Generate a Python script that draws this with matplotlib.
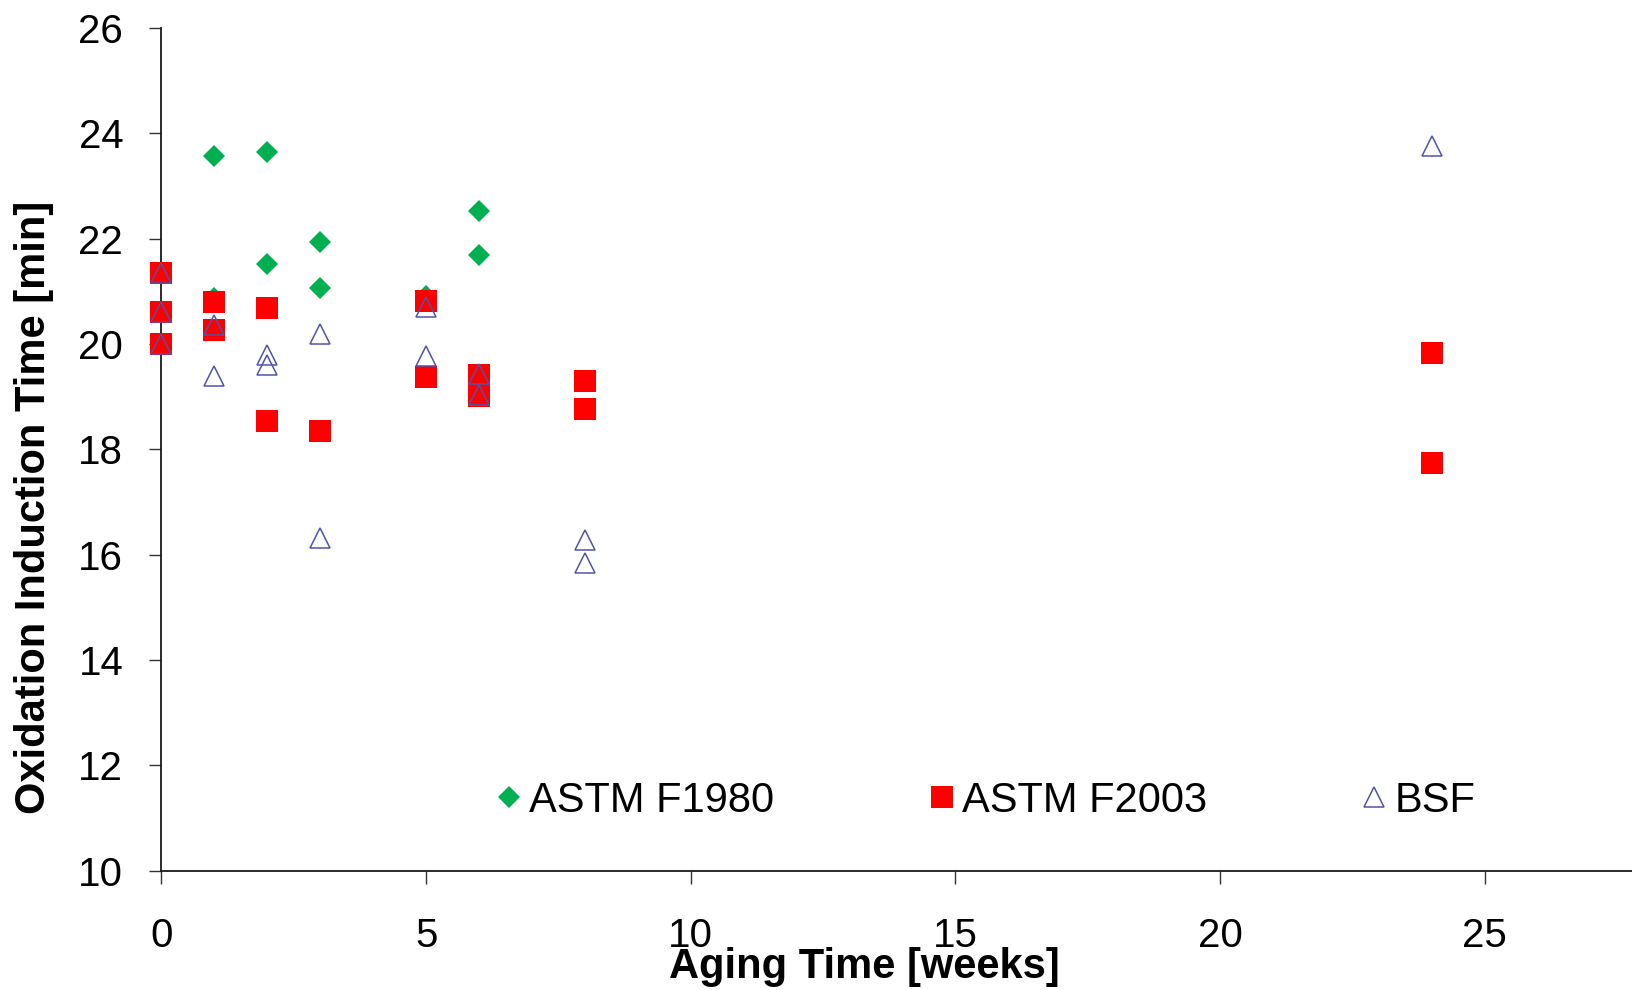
import matplotlib
matplotlib.use("Agg")
import matplotlib.pyplot as plt
from matplotlib.lines import Line2D

plt.rcParams['font.family'] = ['Liberation Sans', 'DejaVu Sans']

# ---- data ----
f1980_x = [1, 1, 2, 2, 3, 3, 5, 5, 6, 6]
f1980_y = [23.58, 20.87, 23.64, 21.53, 21.93, 21.06, 20.92, 19.37, 22.53, 21.69]

f2003_x = [0, 0, 0, 1, 1, 2, 2, 3, 5, 5, 6, 6, 8, 8, 24, 24]
f2003_y = [21.35, 20.61, 20.01, 20.79, 20.27, 20.69, 18.53, 18.34, 20.82, 19.37,
           19.41, 19.01, 19.30, 18.77, 19.84, 17.75]

bsf_x = [0, 0, 0, 1, 1, 2, 2, 3, 3, 5, 5, 6, 6, 8, 8, 24]
bsf_y = [21.35, 20.61, 20.01, 20.36, 19.39, 19.79, 19.61, 20.20, 16.31, 20.70,
         19.78, 19.44, 19.03, 16.28, 15.84, 23.76]

series_labels = ["ASTM F1980", "ASTM F2003", "BSF"]
x_ticks = [0, 5, 10, 15, 20, 25]
y_ticks = [10, 12, 14, 16, 18, 20, 22, 24, 26]
x_label = "Aging Time [weeks]"
y_label = "Oxidation Induction Time [min]"

# ---- styles ----
GREEN = '#00b050'
RED = '#ff0000'
BLUE = '#5252aa'

W, H = 1633, 990
fig = plt.figure(figsize=(W / 100, H / 100), dpi=100)
ax = fig.add_axes([161.4 / W, (H - 870.7) / H, (W - 161.4) / W, (870.7 - 28.1) / H])

ax.plot(f1980_x, f1980_y, linestyle='none', marker='D', ms=11.2,
        color=GREEN, mec=GREEN, mew=0, clip_on=False, zorder=3)
ax.plot(f2003_x, f2003_y, linestyle='none', marker='s', ms=15.8,
        color=RED, mec=RED, mew=0, clip_on=False, zorder=4)
ax.plot(bsf_x, bsf_y, linestyle='none', marker='^', ms=15.0,
        mfc='none', mec=BLUE, mew=1.1, clip_on=False, zorder=5)

ax.set_xlim(0, 27.8)
ax.set_ylim(10, 26)
ax.set_xticks(x_ticks)
ax.set_yticks(y_ticks)

for s in ['top', 'right']:
    ax.spines[s].set_visible(False)
for s in ['left', 'bottom']:
    ax.spines[s].set_linewidth(1.3)
    ax.spines[s].set_color('#1a1a1a')

ax.tick_params(axis='y', direction='out', length=9, width=1.0, color='#333333',
               pad=18.5, labelsize=29)
ax.tick_params(axis='x', direction='out', length=9.5, width=1.0, color='#333333',
               pad=23.5, labelsize=29)

# axis titles
fig.text(864 / W, 1 - 978 / H, x_label, ha='center', va='baseline',
         fontsize=30, fontweight='bold')
fig.text(45 / W, 1 - 507 / H, y_label, ha='center', va='baseline',
         rotation=90, rotation_mode='anchor', fontsize=30, fontweight='bold')

# legend
handles = [
    Line2D([], [], linestyle='none', marker='D', ms=11.2, color=GREEN, mew=0),
    Line2D([], [], linestyle='none', marker='s', ms=15.8, color=RED, mew=0),
    Line2D([], [], linestyle='none', marker='^', ms=15.0, mfc='none', mec=BLUE, mew=1.1),
]
fs_px = 30 * 100 / 72
hl = 0.6
fig.legend(handles, series_labels, ncol=3, frameon=False, fontsize=30,
           handlelength=hl, handletextpad=0.18, columnspacing=3.72,
           borderpad=0, borderaxespad=0, loc='center left',
           bbox_to_anchor=((509 - hl * fs_px / 2) / W, 1 - 800.5 / H),
           bbox_transform=fig.transFigure)

fig.savefig('out.png', dpi=100)
